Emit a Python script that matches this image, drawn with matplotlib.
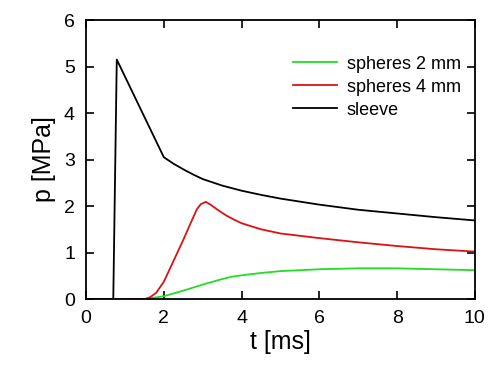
import matplotlib.pyplot as plt

plt.rcParams['font.family'] = ['Liberation Sans', 'DejaVu Sans']

# sleeve
t_sleeve = [0, 0.70, 0.79, 2.0, 2.25, 2.5, 2.75, 3.0, 3.5, 4.0, 4.5, 5.0, 6.0, 7.0, 8.0, 9.0, 10.0]
p_sleeve = [0, 0, 5.15, 3.05, 2.91, 2.79, 2.68, 2.58, 2.44, 2.33, 2.24, 2.16, 2.03, 1.92, 1.84, 1.76, 1.69]

# spheres 4 mm
t_s4 = [0.78, 1.52, 1.65, 1.8, 2.0, 2.25, 2.5, 2.7, 2.85, 2.95, 3.08, 3.2, 3.4, 3.6, 3.8, 4.0,
        4.5, 5.0, 5.5, 6.0, 7.0, 8.0, 9.0, 10.0]
p_s4 = [0, 0, 0.04, 0.13, 0.37, 0.82, 1.27, 1.65, 1.93, 2.04, 2.09, 2.03, 1.91, 1.80, 1.71, 1.63,
        1.50, 1.41, 1.36, 1.31, 1.22, 1.14, 1.07, 1.02]

# spheres 2 mm
t_s2 = [1.45, 1.6, 2.0, 2.5, 3.0, 3.5, 3.75, 4.0, 4.5, 5.0, 6.0, 7.0, 8.0, 9.0, 10.0]
p_s2 = [0, 0.01, 0.06, 0.18, 0.31, 0.43, 0.48, 0.51, 0.56, 0.60, 0.64, 0.66, 0.66, 0.64, 0.62]

fig = plt.figure(figsize=(4.89, 3.71), dpi=100)
ax = fig.add_axes([0.176, 0.194, 0.795, 0.752])

ax.plot(t_s2, p_s2, color='#22dd22', lw=1.3, label='spheres 2 mm')
ax.plot(t_s4, p_s4, color='#dd1111', lw=1.3, label='spheres 4 mm')
ax.plot(t_sleeve, p_sleeve, color='black', lw=1.3, label='sleeve')

ax.set_xlim(0, 10)
ax.set_ylim(0, 6)
ax.set_xticks([0, 2, 4, 6, 8, 10])
ax.set_yticks([0, 1, 2, 3, 4, 5, 6])
ax.tick_params(direction='in', top=True, right=True, length=6, width=1.2,
               labelsize=14, pad=8)
for s in ax.spines.values():
    s.set_linewidth(1.3)

ax.set_xlabel('t [ms]', fontsize=18, labelpad=2)
ax.set_ylabel('p [MPa]', fontsize=18, labelpad=6)

ax.legend(loc='upper right', bbox_to_anchor=(1.005, 0.93), frameon=False,
          fontsize=13, handlelength=2.4, handletextpad=0.55, labelspacing=0.33)

fig.savefig('out.png', dpi=100)
